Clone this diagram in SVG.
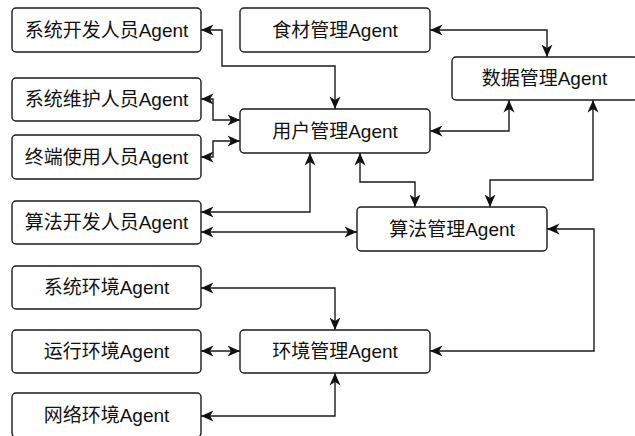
<svg xmlns="http://www.w3.org/2000/svg" width="635" height="436" viewBox="0 0 635 436">
<style>
.box{fill:#fff;stroke:#1a1a1a;stroke-width:1.4}
.lbl{font-family:"Liberation Sans","Noto Sans CJK SC",sans-serif;font-size:19px;fill:#111;text-anchor:middle}
.edge{fill:none;stroke:#1a1a1a;stroke-width:1.4;marker-start:url(#ah);marker-end:url(#ah)}
</style>
<defs>
<marker id="ah" markerUnits="userSpaceOnUse" markerWidth="13" markerHeight="13" viewBox="0 0 13 13" refX="12.5" refY="6.5" orient="auto-start-reverse">
<path d="M0,1 L12.5,6.5 L0,12 L3.5,6.5 Z" fill="#111"/>
</marker>
</defs>
<rect width="635" height="436" fill="#fff"/>
<g id="connectors">
<path class="edge" d="M201 30 L222 30 L222 66 L335 66 L335 109"/>
<path class="edge" d="M430 30 L547 30 L547 57"/>
<path class="edge" d="M430 131 L509 131 L509 100"/>
<path class="edge" d="M593 100 L593 180 L490 180 L490 207"/>
<path class="edge" d="M360 153 L360 182 L415 182 L415 207"/>
<path class="edge" d="M201 99 L213 99 L213 120 L240 120"/>
<path class="edge" d="M201 157 L213 157 L213 141 L240 141"/>
<path class="edge" d="M201 212 L310 212 L310 153"/>
<path class="edge" d="M201 232 L357 232"/>
<path class="edge" d="M201 288 L335 288 L335 330"/>
<path class="edge" d="M201 351 L240 351"/>
<path class="edge" d="M201 416 L335 416 L335 373"/>
<path class="edge" d="M547 229 L594 229 L594 351 L430 351"/>
</g>
<g id="n-sysdev"><rect class="box" x="12" y="8" width="189" height="44" rx="4"/><text class="lbl" x="106.5" y="36.5">系统开发人员Agent</text></g>
<g id="n-sysmaint"><rect class="box" x="12" y="78" width="189" height="43" rx="4"/><text class="lbl" x="106.5" y="106">系统维护人员Agent</text></g>
<g id="n-enduser"><rect class="box" x="12" y="135" width="189" height="44" rx="4"/><text class="lbl" x="106.5" y="163.5">终端使用人员Agent</text></g>
<g id="n-algdev"><rect class="box" x="12" y="201" width="189" height="43" rx="4"/><text class="lbl" x="106.5" y="229">算法开发人员Agent</text></g>
<g id="n-sysenv"><rect class="box" x="12" y="266" width="189" height="43" rx="4"/><text class="lbl" x="106.5" y="294">系统环境Agent</text></g>
<g id="n-runenv"><rect class="box" x="12" y="330" width="189" height="43" rx="4"/><text class="lbl" x="106.5" y="358">运行环境Agent</text></g>
<g id="n-netenv"><rect class="box" x="12" y="393" width="189" height="44" rx="4"/><text class="lbl" x="106.5" y="422">网络环境Agent</text></g>
<g id="n-food"><rect class="box" x="240" y="8" width="190" height="44" rx="4"/><text class="lbl" x="335" y="36.5">食材管理Agent</text></g>
<g id="n-data"><rect class="box" x="452" y="57" width="186" height="43" rx="4"/><text class="lbl" x="544.5" y="85">数据管理Agent</text></g>
<g id="n-user"><rect class="box" x="240" y="109" width="190" height="44" rx="4"/><text class="lbl" x="335" y="137.5">用户管理Agent</text></g>
<g id="n-alg"><rect class="box" x="357" y="207" width="190" height="44" rx="4"/><text class="lbl" x="452" y="235.5">算法管理Agent</text></g>
<g id="n-env"><rect class="box" x="240" y="330" width="190" height="43" rx="4"/><text class="lbl" x="335" y="358">环境管理Agent</text></g>
</svg>
